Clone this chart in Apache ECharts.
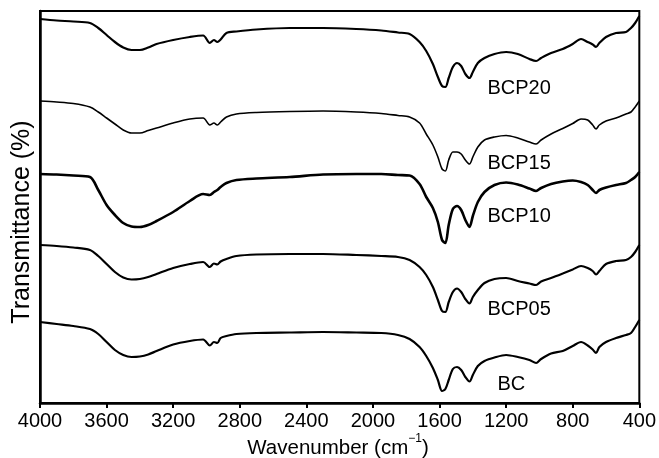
<!DOCTYPE html>
<html>
<head>
<meta charset="utf-8">
<script src="https://cdn.jsdelivr.net/npm/echarts@6/dist/echarts.min.js"></script>
<style>
html,body{margin:0;padding:0;background:#fff;}
#chart{width:659px;height:458px;}
</style>
</head>
<body>
<div id="chart"></div>
<script>
// Wavenumber (cm^-1) sample positions shared by all spectra
const wavenumbers = [4000,3900,3800,3700,3650,3600,3550,3500,3450,3400,
3350,3300,3200,3100,3020,2980,2955,2935,2915,2880,
2820,2700,2500,2300,2100,1950,1850,1780,1720,1680,
1640,1610,1585,1565,1545,1520,1495,1470,1445,1420,
1400,1370,1330,1270,1200,1130,1060,1020,990,930,
860,800,750,710,680,660,640,600,540,480,
450,425,400];

// Transmittance (arbitrary, offset-stacked units)
const bcp20 = [384,382.5,381.5,380,375,368,361,355.5,353,353,
355.5,359,363,366,367.5,360,363,361,363.5,370,
371.5,373.5,375,375,374,372.5,370.5,369,361,352,
339,326,317,316,325,336,340,337,329,325,
331,340,345,349,351,349,344,342,345,350,
354,359,364,361,358.5,356,360,366,370,371,
375,380,387];

const bcp15 = [302,301,299.5,296,291,285,279,273,270,270,
272.5,275,280,284,285,278,280,278,281,286,
289,290.5,291.5,292,291,289.5,287.5,286,280,269,
258,246,234,232,243,251,251,249,243,239,
246,256,263,266,267.5,265,261,259,263,269,
274.5,279.5,284,283,278,274,278,282,285,289,
291,296,302];

const bcp10 = [229,228.5,227.5,226,213,198,188,180,176.5,176,
178,182,191,202,209,208,211,213,216,220,
223,224.5,226,228.5,229,229,228,227.5,219,206,
195,181,163,160,178,194,197,193,183,176,
187,201,211,218,220.5,218.5,214.5,212,215,219,
221.5,222.5,221,218,213,210,213,215.5,218,220,
223,226,231];

const bcp05 = [158,157,155.5,153,147,139,131,125.5,123.5,124,
126,129,135,139,141,136,139.5,138.5,141.5,144,
147,148.5,149,149,148,147,146,143,136,128,
116,103,92,91,101,111,114.5,111,104,99.5,
106,113,120,124,125,122,119.5,118,121.5,125,
129.5,133.5,137,135,132,128.5,132,139,142,143,
146,151,158];

const bc = [81,79,77,74,69,61,53,48,46,46.5,
48.5,52,58.5,62,63.5,57.5,61,60,65,67,
69,70,70.5,71,70.5,70,68,64,56,47,
35,23,12,14,23,34,36,33,26,21.5,
28,37,42,45.5,48,46,43,40,44,49.5,
52,57,61,57.5,53.5,50,56,61,65,68,
70,76,83];

const seriesNames = ['BCP20','BCP15','BCP10','BCP05','BC'];
const seriesValues = [bcp20, bcp15, bcp10, bcp05, bc];
const lineWidths = [2.2, 1.6, 2.6, 2.2, 2.2];
// label anchors in data units [wavenumber, transmittance]
const labelAnchors = [[1315, 315],[1315, 240],[1315, 187],[1315, 94],[1255, 19]];

const FONT = '"Liberation Sans", Arial, Helvetica, sans-serif';

const chart = echarts.init(document.getElementById('chart'), null, {renderer:'canvas'});

const series = seriesNames.map((name, k) => ({
  name: name,
  type: 'line',
  data: wavenumbers.map((w, i) => [w, seriesValues[k][i]]),
  showSymbol: false,
  smooth: 0.3,
  lineStyle: {color:'#000', width: lineWidths[k]},
  itemStyle: {color:'#000'},
  silent: true,
  markPoint: {
    symbol: 'rect', symbolSize: 1,
    itemStyle: {color: 'rgba(0,0,0,0)'},
    label: {show: true, position: 'right', distance: 0, formatter: name,
            color: '#000', fontSize: 20, fontFamily: FONT},
    data: [{coord: labelAnchors[k]}]
  }
}));

chart.setOption({
  animation: false,
  backgroundColor: '#fff',
  grid: {left: 40, right: 18, top: 11, bottom: 55, show: true, borderColor: '#000', borderWidth: 2},
  xAxis: {
    type: 'value', min: 400, max: 4000, interval: 400, inverse: true,
    axisLine: {lineStyle: {color: '#000', width: 2.5}},
    axisTick: {length: 5, lineStyle: {color: '#000', width: 2}},
    axisLabel: {color: '#000', fontSize: 20, fontFamily: FONT, margin: 8, showMinLabel: true, showMaxLabel: true,
                formatter: v => String(v)},
    splitLine: {show: false}
  },
  yAxis: {
    type: 'value', min: 0, max: 392,
    axisLine: {show: true, lineStyle: {color: '#000', width: 2.5}},
    axisTick: {show: false}, axisLabel: {show: false}, splitLine: {show: false}
  },
  series: series,
  graphic: [
    {type: 'text', x: 338, y: 446,
     style: {text: '{a|Wavenumber (cm}{s|−1}{a|)}', align: 'center', verticalAlign: 'middle',
             rich: {a: {fontSize: 20.5, fontFamily: FONT, fill: '#000', lineHeight: 26, verticalAlign: 'bottom'},
                    s: {fontSize: 12, fontFamily: FONT, fill: '#000', lineHeight: 26, verticalAlign: 'top'}}}},
    {type: 'text', x: 22, y: 222, rotation: Math.PI / 2,
     style: {text: 'Transmittance (%)', align: 'center', verticalAlign: 'middle',
             fontSize: 25, fontFamily: FONT, fill: '#000'}}
  ]
});
</script>
</body>
</html>
